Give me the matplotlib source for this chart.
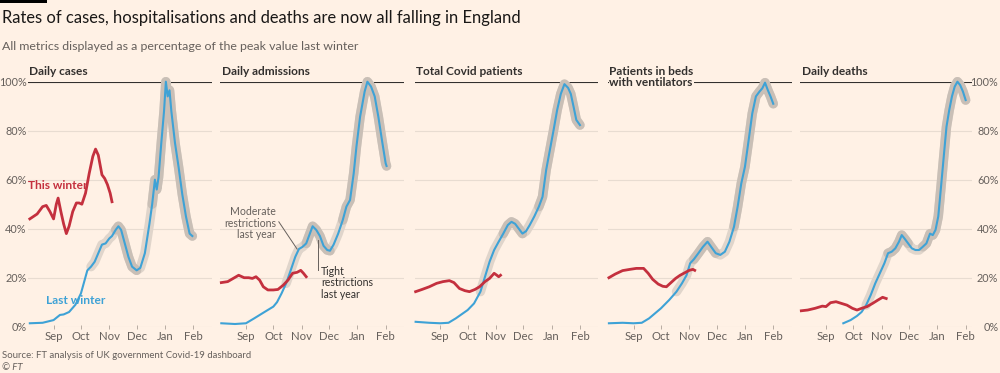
import matplotlib
matplotlib.use("Agg")
import matplotlib.pyplot as plt
import numpy as np
import pandas as pd
from matplotlib.patches import Rectangle

# all series on last winter's calendar (Aug 2020 - Feb 2021); "this winter" is drawn
# on the same month positions so the two seasons line up
PANELS = ["Daily cases", "Daily admissions", "Total Covid patients",
          "Patients in beds\nwith ventilators", "Daily deaths"]

cases_last_d = ["08-06", "08-20", "09-01", "09-08", "09-12", "09-18", "09-25", "10-01", "10-08",
                "10-12", "10-16", "10-20", "10-24", "10-28", "11-01", "11-04", "11-08", "11-11",
                "11-14", "11-18", "11-22", "11-26", "12-01", "12-05", "12-10", "12-15", "12-18",
                "12-21", "12-23", "12-25", "12-28", "12-31", "01-02", "01-04", "01-06", "01-08",
                "01-12", "01-16", "01-20", "01-24", "01-28", "01-31"]
cases_last_v = [1.4, 1.6, 2.7, 4.8, 5, 6, 9, 13.6, 23, 24.5, 26.5, 30, 33.5, 34, 36, 37, 39.5, 41,
                39.5, 34, 28.5, 24.5, 23, 24, 30, 42, 50, 60, 56, 61, 75, 88, 100, 94, 96.5, 88,
                75, 65, 54, 45, 38, 37]
cases_this_d = ["08-06", "08-10", "08-14", "08-20", "08-24", "08-28", "09-01", "09-04", "09-06",
                "09-09", "09-12", "09-15", "09-18", "09-22", "09-26", "09-29", "10-02", "10-06",
                "10-10", "10-14", "10-17", "10-20", "10-24", "10-27", "10-30", "11-02", "11-04"]
cases_this_v = [44, 45, 46, 49, 49.5, 47, 44, 50, 52.5, 47, 42, 38, 41, 47, 50.5, 50.5, 50, 54.5,
                62.5, 69.5, 72.5, 70, 62, 60.5, 58, 54.5, 51]

adm_last_d = ["08-05", "08-20", "09-01", "09-10", "09-20", "10-01", "10-05", "10-10", "10-15",
              "10-20", "10-25", "10-29", "11-02", "11-06", "11-10", "11-13", "11-17", "11-21",
              "11-25", "11-29", "12-02", "12-06", "12-11", "12-16", "12-20", "12-24", "12-28",
              "12-31", "01-04", "01-09", "01-12", "01-16", "01-20", "01-24", "01-28", "02-01",
              "02-02"]
adm_last_v = [1.4, 1.1, 1.4, 3.4, 5.7, 8.2, 10, 13.6, 17.7, 23, 28.5, 31.7, 32.6, 34, 38, 41, 39.5,
              37, 33, 31.3, 31, 33.5, 38, 43.5, 49, 51.7, 62.6, 73.5, 85.7, 96, 100, 98, 94, 85.7,
              76, 66.7, 65.6]
adm_this_d = ["08-05", "08-12", "08-18", "08-24", "08-30", "09-04", "09-08", "09-12", "09-16",
              "09-20", "09-25", "10-01", "10-06", "10-12", "10-17", "10-22", "10-27", "10-31",
              "11-03", "11-06"]
adm_this_v = [18, 18.4, 19.7, 21, 20, 20, 19.7, 20.4, 19, 16.3, 15, 15, 15.2, 17, 19, 21.8, 22.2,
              23, 21.8, 20.4]

pat_last_d = ["08-05", "08-20", "09-01", "09-10", "09-18", "10-01", "10-08", "10-15", "10-20",
              "10-25", "10-30", "11-04", "11-09", "11-14", "11-18", "11-22", "11-26", "11-30",
              "12-04", "12-08", "12-13", "12-18", "12-22", "12-26", "12-30", "01-03", "01-07",
              "01-11", "01-15", "01-19", "01-22", "01-25", "01-28", "02-01"]
pat_last_v = [2, 1.6, 1.4, 1.6, 3.4, 6.8, 9.5, 14.3, 20.4, 26.5, 31.3, 34.7, 38, 41.5, 42.8, 42,
              40, 38, 39, 41.5, 45, 49, 53, 64, 72, 80, 88.4, 95, 99, 97.5, 95, 89.8, 84.4, 82.3]
pat_this_d = ["08-05", "08-12", "08-20", "08-28", "09-04", "09-11", "09-16", "09-22", "09-28",
              "10-03", "10-09", "10-14", "10-20", "10-25", "10-30", "11-02", "11-04", "11-06"]
pat_this_v = [14.3, 15.2, 16.3, 17.7, 18.4, 18.8, 18, 15.6, 14.7, 14.3, 15.2, 16.3, 18.4, 19.7,
              21.8, 21, 20.4, 21]

vent_last_d = ["08-05", "08-20", "09-01", "09-10", "09-18", "10-01", "10-10", "10-18", "10-24",
               "10-29", "11-02", "11-06", "11-11", "11-16", "11-21", "11-25", "11-30", "12-05",
               "12-10", "12-15", "12-20", "12-24", "12-28", "01-01", "01-05", "01-09", "01-13",
               "01-17", "01-20", "01-23", "01-26", "01-29", "02-01"]
vent_last_v = [1.4, 1.6, 1.4, 1.6, 3.4, 7.5, 10.9, 14.3, 17.7, 21, 25.9, 27.5, 30, 32.6, 34.7,
               32.6, 30, 29.3, 30.6, 34.7, 40.8, 49, 58.5, 65.3, 76, 87, 94, 96, 97.3, 99.6, 96.6,
               94, 91]
vent_this_d = ["08-05", "08-12", "08-20", "08-28", "09-04", "09-12", "09-17", "09-22", "09-28",
               "10-03", "10-07", "10-12", "10-17", "10-22", "10-27", "11-01", "11-05", "11-07"]
vent_this_v = [20, 21.5, 22.9, 23.4, 23.8, 23.8, 21.8, 19.3, 17.4, 16.5, 16.3, 18, 19.7, 21, 22,
               23, 23.4, 23]

death_last_d = ["09-20", "09-28", "10-05", "10-10", "10-15", "10-20", "10-25", "10-30", "11-04",
                "11-08", "11-12", "11-16", "11-20", "11-23", "11-26", "11-30", "12-04", "12-08",
                "12-12", "12-16", "12-20", "12-24", "12-27", "12-30", "01-02", "01-05", "01-08",
                "01-11", "01-14", "01-17", "01-20", "01-23", "01-26", "01-29", "02-01"]
death_last_v = [1.4, 2.7, 4.4, 6, 8.8, 12.9, 17.7, 21.8, 25.9, 30, 30.6, 32, 34.7, 37.4, 36, 34,
                32, 31.3, 31.3, 32.6, 34, 38, 37.4, 39.5, 45, 57, 69.4, 81.6, 88.4, 94, 98, 100,
                98.6, 96, 92.5]
death_this_d = ["08-05", "08-12", "08-20", "08-28", "09-01", "09-06", "09-12", "09-18", "09-24",
                "09-30", "10-05", "10-10", "10-16", "10-22", "10-28", "11-02", "11-06"]
death_this_v = [6.5, 6.8, 7.5, 8.4, 8.2, 9.8, 10.2, 9.5, 8.8, 7.5, 6.8, 7.5, 8.2, 9.5, 10.9, 12,
                11.5]

# restriction periods last year -> halo shade behind the blue line
halo_light = ("10-12", "02-28")
halo_dark = [("11-05", "12-03"), ("12-16", "02-28")]

month_ticks = ["09-01", "10-01", "11-01", "12-01", "01-01", "02-01"]
month_labels = ["Sep", "Oct", "Nov", "Dec", "Jan", "Feb"]
y_ticks = [0, 20, 40, 60, 80, 100]

BG = "#fff1e5"
DARK = "#33302e"
GREY = "#66605c"
GRID = "#e8dcd1"
BLUE = "#3ea2d6"
RED = "#c4303e"
HALO_L = "#e0d5cb"
HALO_D = "#c9bfb6"


def dates(md):
    return pd.to_datetime([("2021-" if m[:2] in ("01", "02") else "2020-") + m for m in md])


series = [
    (cases_last_d, cases_last_v, cases_this_d, cases_this_v),
    (adm_last_d, adm_last_v, adm_this_d, adm_this_v),
    (pat_last_d, pat_last_v, pat_this_d, pat_this_v),
    (vent_last_d, vent_last_v, vent_this_d, vent_this_v),
    (death_last_d, death_last_v, death_this_d, death_this_v),
]

plt.rcParams["font.family"] = ["Lato", "DejaVu Sans"]
fig = plt.figure(figsize=(10, 3.73), dpi=100, facecolor=BG)

W, H = 1000, 373
px_day = 0.913
x0 = pd.Timestamp("2020-08-04")
lefts = [28, 220.4, 414.7, 608, 800.4]
rights = [212, 404, 598, 792, 972]
bottom, top = 326.7, 81.7


def seg(d, v, a, b):
    i0 = np.searchsorted(d.values, np.datetime64(a))
    i1 = np.searchsorted(d.values, np.datetime64(b), side="right")
    return d[i0:i1], v[i0:i1]


axes = []
for k, (name, (ld, lv, td, tv)) in enumerate(zip(PANELS, series)):
    l, r = lefts[k], rights[k]
    ax = fig.add_axes([l / W, 1 - bottom / H, (r - l) / W, (bottom - top) / H])
    ax.set_facecolor(BG)
    ax.set_xlim(x0, x0 + pd.Timedelta(days=(r - l) / px_day))
    ax.set_ylim(0, 100)
    for s in ax.spines.values():
        s.set_visible(False)
    for g in y_ticks[:-1]:
        ax.axhline(g, color=GRID, lw=0.8, zorder=0)
    ax.axhline(100, color=DARK, lw=0.8, zorder=1)

    ldt, lvv = dates(ld), np.array(lv)
    hd, hv = seg(ldt, lvv, *dates(list(halo_light)))
    ax.plot(hd, hv, color=HALO_L, lw=6.8, solid_capstyle="round", zorder=2, clip_on=False)
    for a, b in halo_dark:
        hd, hv = seg(ldt, lvv, *dates([a, b]))
        ax.plot(hd, hv, color=HALO_D, lw=6.8, solid_capstyle="round", zorder=2, clip_on=False)
    ax.plot(ldt, lvv, color=BLUE, lw=1.5, zorder=3, clip_on=False)
    ax.plot(dates(td), tv, color=RED, lw=2.0, zorder=4, clip_on=False)

    ax.set_xticks(dates(month_ticks))
    ax.set_xticklabels(month_labels)
    ax.tick_params(axis="x", length=2.5, width=0.7, color="#b8aca2", labelcolor=GREY,
                   labelsize=8.2, pad=2, direction="inout")
    ax.set_yticks(y_ticks)
    if k == 0:
        ax.set_yticklabels([f"{t}%" for t in y_ticks])
        ax.tick_params(axis="y", length=0, labelcolor=GREY, labelsize=7.8, pad=1)
    elif k == 4:
        ax.yaxis.tick_right()
        ax.set_yticklabels([f"{t}%" for t in y_ticks], ha="right")
        ax.tick_params(axis="y", length=0, labelcolor=GREY, labelsize=7.8, pad=19)
    else:
        ax.tick_params(axis="y", length=0, labelleft=False)

    ax.annotate(name, xy=(0, 1), xycoords="axes fraction", xytext=(1, 11),
                textcoords="offset points", ha="left", va="top", fontsize=8.6,
                fontweight="bold", color=DARK, linespacing=0.95, zorder=5,
                bbox=dict(facecolor=BG, edgecolor="none", pad=0.3))
    axes.append(ax)

# series labels
axes[0].text(pd.Timestamp("2020-08-04"), 57.5, "This winter", color=RED, fontsize=8.6,
             fontweight="bold", ha="left", va="center")
axes[0].text(pd.Timestamp("2020-08-24"), 10.6, "Last winter", color=BLUE, fontsize=8.6,
             fontweight="bold", ha="left", va="center")

# restriction annotations
ax = axes[1]
ax.text(pd.Timestamp("2020-10-04"), 42.3, "Moderate\nrestrictions\nlast year", color=GREY,
        fontsize=7.6, ha="right", va="center", linespacing=1.05)
ax.plot(pd.to_datetime(["2020-10-07", "2020-10-27"]), [42.8, 31.7], color=GREY, lw=0.7, zorder=5)
ax.text(pd.Timestamp("2020-11-22"), 18.0, "Tight\nrestrictions\nlast year", color=DARK,
        fontsize=7.6, ha="left", va="center", linespacing=1.05)
ax.plot(pd.to_datetime(["2020-11-19", "2020-11-19"]), [35.3, 23.0], color=GREY, lw=0.7, zorder=5)

# header / footer
fig.patches.append(Rectangle((0, 1 - 2.8 / H), 47 / W, 2.8 / H, transform=fig.transFigure,
                             facecolor="black", edgecolor="none"))
fig.text(2 / W, 1 - 18 / H, "Rates of cases, hospitalisations and deaths are now all falling in England",
         fontsize=11.9, color="#1a1817", ha="left", va="center")
fig.text(2 / W, 1 - 46 / H, "All metrics displayed as a percentage of the peak value last winter",
         fontsize=8.9, color=GREY, ha="left", va="center")
fig.text(2 / W, 1 - 355 / H, "Source: FT analysis of UK government Covid-19 dashboard",
         fontsize=6.9, color=GREY, ha="left", va="center")
fig.text(2 / W, 1 - 367 / H, "© FT", fontsize=6.9, color=GREY, ha="left", va="center",
         style="italic")

fig.savefig("out.png", dpi=100, facecolor=BG)
